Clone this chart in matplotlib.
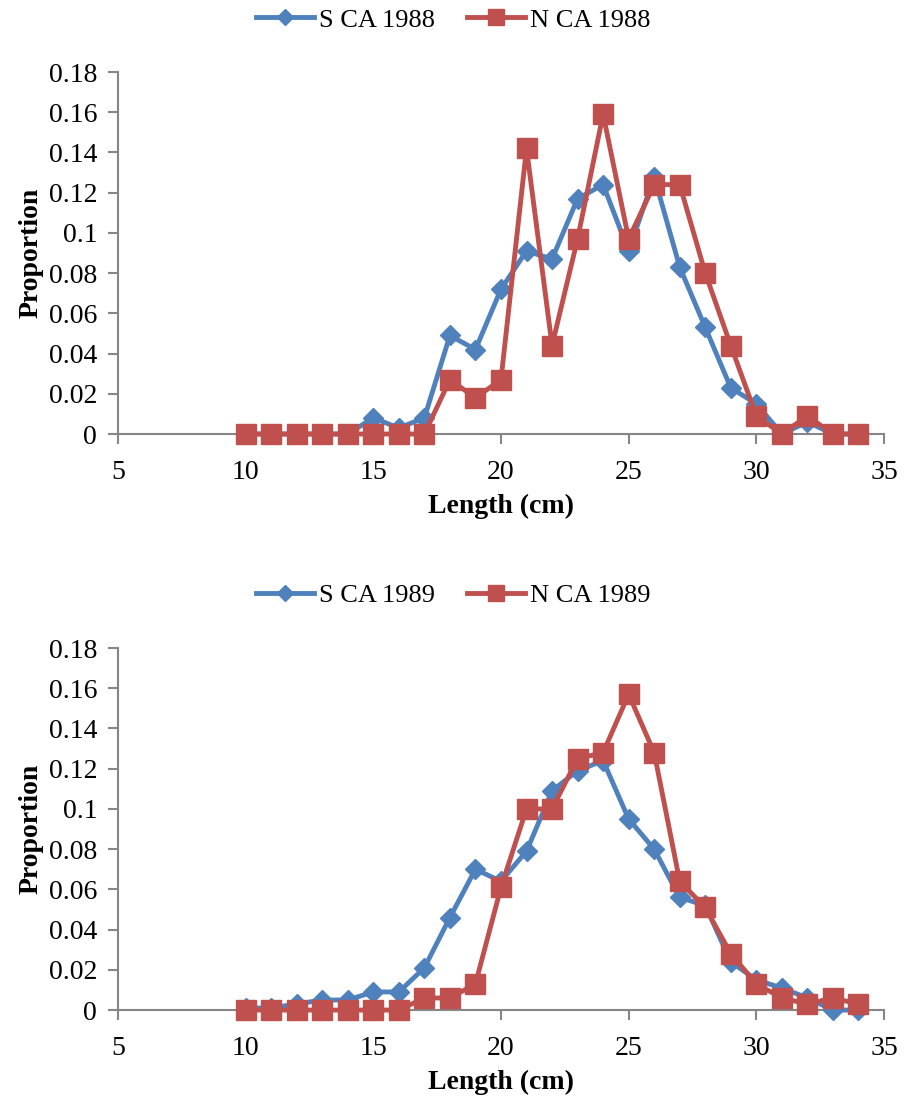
import matplotlib.pyplot as plt

# length classes (cm)
lengths = list(range(10, 35))

# 1988 proportions
s_ca_1988 = [0, 0, 0, 0, 0, 0.008, 0.003, 0.008, 0.049, 0.042, 0.072, 0.091, 0.087,
             0.117, 0.124, 0.091, 0.128, 0.083, 0.053, 0.023, 0.015, 0, 0.006, 0, 0]
n_ca_1988 = [0, 0, 0, 0, 0, 0, 0, 0, 0.027, 0.018, 0.027, 0.142, 0.044,
             0.097, 0.159, 0.097, 0.124, 0.124, 0.080, 0.044, 0.009, 0, 0.009, 0, 0]

# 1989 proportions
s_ca_1989 = [0.001, 0.001, 0.003, 0.005, 0.005, 0.009, 0.009, 0.021, 0.046, 0.070, 0.064,
             0.079, 0.109, 0.119, 0.124, 0.095, 0.080, 0.056, 0.052, 0.024, 0.015,
             0.011, 0.006, 0, 0]
n_ca_1989 = [0, 0, 0, 0, 0, 0, 0, 0.006, 0.006, 0.013, 0.061, 0.100, 0.100,
             0.125, 0.128, 0.157, 0.128, 0.064, 0.051, 0.028, 0.013, 0.006, 0.003,
             0.006, 0.003]

yticks = [0, 0.02, 0.04, 0.06, 0.08, 0.1, 0.12, 0.14, 0.16, 0.18]
ytick_labels = ['0', '0.02', '0.04', '0.06', '0.08', '0.1', '0.12', '0.14', '0.16', '0.18']

blue = '#4F81BD'
red = '#C0504D'
grey = '#868686'

plt.rcParams['font.family'] = ['Liberation Serif', 'DejaVu Serif']

fig = plt.figure(figsize=(9.06, 11.01), dpi=100)
ax1 = fig.add_axes([0.1302, 0.6058, 0.8455, 0.3288])
ax2 = fig.add_axes([0.1302, 0.0826, 0.8455, 0.3288])

panels = [(ax1, s_ca_1988, n_ca_1988, '1988', 0.982),
          (ax2, s_ca_1989, n_ca_1989, '1989', 0.459)]

for ax, s, n, year, leg_y in panels:
    ax.plot(lengths, s, color=blue, lw=3.5, marker='D', ms=10, label='S CA ' + year,
            clip_on=False, zorder=3)
    ax.plot(lengths, n, color=red, lw=3.5, marker='s', ms=14, label='N CA ' + year,
            clip_on=False, zorder=4)
    ax.set_xlim(5, 35)
    ax.set_ylim(0, 0.18)
    ax.set_xticks([5, 10, 15, 20, 25, 30, 35])
    ax.set_yticks(yticks)
    ax.set_yticklabels(ytick_labels)
    for side in ['top', 'right']:
        ax.spines[side].set_visible(False)
    for side in ['left', 'bottom']:
        ax.spines[side].set_color(grey)
        ax.spines[side].set_linewidth(1.5)
    ax.tick_params(colors=grey, labelcolor='black', labelsize=20, length=7, width=1.5)
    ax.tick_params(axis='x', pad=12)
    ax.tick_params(axis='y', pad=8)
    ax.set_xlabel('Length (cm)', fontsize=20, fontweight='bold', labelpad=6)
    ax.set_ylabel('Proportion', fontsize=20, fontweight='bold', labelpad=4)
    ax.legend(loc='center', bbox_to_anchor=(0.5, leg_y), bbox_transform=fig.transFigure,
              ncol=2, frameon=False, fontsize=19, handlelength=2.2, columnspacing=1.2,
              handletextpad=0.2, markerscale=0.8)

plt.savefig('out.png', dpi=100)
